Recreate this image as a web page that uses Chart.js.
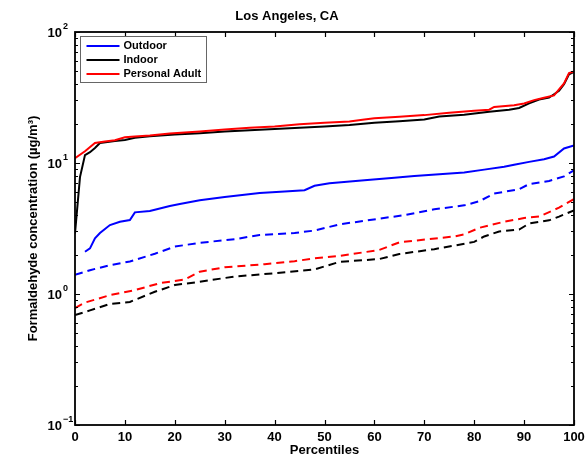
<!DOCTYPE html>
<html>
<head>
<meta charset="utf-8">
<script src="https://cdn.jsdelivr.net/npm/chart.js@4.4.1/dist/chart.umd.min.js"></script>
<style>
  html, body { margin: 0; padding: 0; background: #fff; }
  #wrap { width: 586px; height: 462px; }
</style>
</head>
<body>
<div id="wrap"><canvas id="c" width="586" height="462"></canvas></div>
<script>
// Formaldehyde concentration percentiles (µg/m³), Los Angeles, CA
const outdoorPct = [2, 3, 4, 5, 7, 9, 11, 12, 15, 19, 21, 25, 30, 37, 42, 46, 48, 51, 58, 64, 68, 73, 78, 82, 86, 88, 91, 94, 96, 98, 100];
const outdoorVal = [2.1, 2.23, 2.66, 2.92, 3.36, 3.56, 3.67, 4.2, 4.3, 4.7, 4.86, 5.2, 5.5, 5.9, 6.05, 6.2, 6.7, 7.0, 7.4, 7.7, 7.95, 8.2, 8.45, 8.9, 9.35, 9.7, 10.2, 10.7, 11.2, 12.9, 13.6];

const indoorPct = [0, 1, 2, 3, 4, 5, 8, 10, 12, 15, 20, 25, 30, 35, 40, 45, 50, 55, 60, 65, 70, 73, 78, 83, 87, 89, 91, 93, 95, 96, 97, 98, 99, 100];
const indoorVal = [2.9, 7.8, 11.5, 12.1, 13.0, 14.2, 14.7, 15.0, 15.6, 16.0, 16.5, 16.9, 17.4, 17.8, 18.2, 18.6, 19.0, 19.5, 20.3, 20.8, 21.5, 22.6, 23.4, 24.6, 25.5, 26.3, 28.5, 30.5, 31.6, 33.5, 35.6, 40.0, 47.5, 49.5];

const personalPct = [0, 2, 4, 6, 8, 10, 12, 15, 19, 25, 30, 35, 40, 45, 50, 55, 58, 60, 65, 70, 75, 80, 83, 84, 88, 90, 92, 94, 96, 98, 99, 100];
const personalVal = [10.9, 12.3, 14.2, 14.6, 14.9, 15.7, 15.9, 16.2, 16.8, 17.4, 18.0, 18.6, 19.0, 19.8, 20.3, 20.7, 21.5, 22.0, 22.5, 23.2, 24.2, 25.0, 25.5, 26.8, 27.6, 28.5, 30.2, 31.5, 32.8, 40.5, 48.5, 50.0];

const outdoorLowPct = [0, 3, 7, 11, 16, 20, 25, 32, 37, 44, 48, 53, 61, 66, 72, 78, 81, 84, 89, 91, 95, 98, 100];
const outdoorLowVal = [1.40, 1.52, 1.66, 1.77, 2.03, 2.30, 2.46, 2.62, 2.82, 2.92, 3.05, 3.40, 3.76, 4.0, 4.43, 4.75, 5.1, 5.85, 6.3, 6.9, 7.3, 7.9, 8.8];

const personalLowPct = [0, 2, 7, 12, 17, 22, 25, 30, 38, 44, 48, 53, 61, 65, 76, 78, 81, 86, 90, 93, 97, 100];
const personalLowVal = [0.78, 0.86, 0.98, 1.07, 1.21, 1.29, 1.48, 1.60, 1.69, 1.78, 1.87, 1.95, 2.17, 2.48, 2.75, 2.85, 3.2, 3.56, 3.8, 3.9, 4.56, 5.3];

const indoorLowPct = [0, 3, 7, 11, 16, 20, 25, 32, 40, 48, 53, 61, 65, 72, 76, 80, 82, 85, 89, 91, 95, 97, 100];
const indoorLowVal = [0.69, 0.75, 0.84, 0.87, 1.04, 1.17, 1.24, 1.36, 1.44, 1.54, 1.76, 1.85, 2.02, 2.2, 2.34, 2.5, 2.75, 3.0, 3.1, 3.45, 3.65, 3.9, 4.35];

const xTickValues = [0, 10, 20, 30, 40, 50, 60, 70, 80, 90, 100];
const yDecades = [-1, 0, 1, 2];

const FONT = '"Liberation Sans", Arial, Helvetica, sans-serif';

function pts(px, vals) {
  return px.map((p, i) => ({ x: p, y: vals[i] }));
}

function series(label, px, vals, color, dashed, order, inLegend) {
  return {
    label,
    data: pts(px, vals),
    borderColor: color,
    backgroundColor: color,
    borderWidth: 2,
    borderDash: dashed ? [8, 5] : [],
    pointRadius: 0,
    tension: 0,
    fill: false,
    order,
    inLegend
  };
}

// Axis frame, inward MATLAB-style ticks, superscripted decade labels and the boxed legend
const axesDecor = {
  id: 'axesDecor',
  afterDatasetsDraw(chart) {
    const { ctx, chartArea: a, scales: { x, y } } = chart;
    ctx.save();
    ctx.strokeStyle = '#000';
    ctx.lineWidth = 1.2;
    ctx.beginPath();
    for (const v of xTickValues) {
      const px = Math.round(x.getPixelForValue(v)) + 0.5;
      ctx.moveTo(px, a.bottom); ctx.lineTo(px, a.bottom - 5);
      ctx.moveTo(px, a.top); ctx.lineTo(px, a.top + 5);
    }
    for (const e of yDecades) {
      for (let m = 1; m <= 9; m++) {
        const v = m * Math.pow(10, e);
        if (v > 100.0001) break;
        const py = Math.round(y.getPixelForValue(v)) + 0.5;
        const len = m === 1 ? 5 : 3;
        ctx.moveTo(a.left, py); ctx.lineTo(a.left + len, py);
        ctx.moveTo(a.right, py); ctx.lineTo(a.right - len, py);
      }
    }
    ctx.stroke();

    ctx.lineWidth = 1.8;
    ctx.strokeRect(a.left, a.top, a.right - a.left, a.bottom - a.top);

    // decade labels
    ctx.fillStyle = '#000';
    for (const e of yDecades) {
      const py = y.getPixelForValue(Math.pow(10, e));
      ctx.font = 'bold 13px ' + FONT;
      ctx.textAlign = 'right';
      ctx.textBaseline = 'middle';
      ctx.fillText('10', 62, py + 1);
      ctx.font = 'bold 9px ' + FONT;
      ctx.textAlign = 'left';
      ctx.fillText(String(e).replace('-', '\u2212'), 63, py - 5);
    }

    // legend box
    const items = chart.data.datasets.filter(d => d.inLegend);
    const bx = a.left + 5.5, by = a.top + 4.5, bw = 126, bh = 46;
    ctx.fillStyle = '#fff';
    ctx.fillRect(bx, by, bw, bh);
    ctx.strokeStyle = '#666';
    ctx.lineWidth = 1;
    ctx.strokeRect(bx, by, bw, bh);
    ctx.font = 'bold 11px ' + FONT;
    ctx.textAlign = 'left';
    ctx.textBaseline = 'middle';
    items.forEach((d, i) => {
      const ry = by + 9.5 + i * 14;
      ctx.strokeStyle = d.borderColor;
      ctx.lineWidth = 2;
      ctx.beginPath();
      ctx.moveTo(bx + 6, ry); ctx.lineTo(bx + 39, ry);
      ctx.stroke();
      ctx.fillStyle = '#000';
      ctx.fillText(d.label, bx + 43, ry);
    });
    ctx.restore();
  }
};

new Chart(document.getElementById('c'), {
  type: 'line',
  data: {
    datasets: [
      series('Outdoor', outdoorPct, outdoorVal, '#0000ff', false, 2, true),
      series('Indoor', indoorPct, indoorVal, '#000000', false, 1, true),
      series('Personal Adult', personalPct, personalVal, '#ff0000', false, 0, true),
      series('Outdoor (dashed)', outdoorLowPct, outdoorLowVal, '#0000ff', true, 3, false),
      series('Personal Adult (dashed)', personalLowPct, personalLowVal, '#ff0000', true, 3, false),
      series('Indoor (dashed)', indoorLowPct, indoorLowVal, '#000000', true, 4, false)
    ]
  },
  options: {
    responsive: false,
    animation: false,
    devicePixelRatio: 1,
    layout: { padding: { left: 0, right: 12, top: 0, bottom: 0 } },
    plugins: {
      legend: { display: false },
      tooltip: { enabled: false },
      title: {
        display: true,
        text: 'Los Angeles, CA',
        color: '#000',
        font: { family: FONT, size: 13, weight: 'bold' },
        padding: { top: 9, bottom: 7.4 }
      }
    },
    scales: {
      x: {
        type: 'linear',
        min: 0,
        max: 100,
        afterBuildTicks: s => { s.ticks = xTickValues.map(v => ({ value: v })); },
        afterFit: s => { s.height = 37; s.paddingLeft = 0; s.paddingRight = 0; },
        grid: { display: false, drawTicks: false },
        border: { display: false },
        ticks: {
          color: '#000',
          padding: 5,
          maxRotation: 0,
          font: { family: FONT, size: 13, weight: 'bold' }
        },
        title: {
          display: true,
          text: 'Percentiles',
          color: '#000',
          font: { family: FONT, size: 13, weight: 'bold' },
          padding: { top: 0, bottom: 4 }
        }
      },
      y: {
        type: 'logarithmic',
        min: 0.1,
        max: 100,
        afterBuildTicks: s => { s.ticks = yDecades.map(e => ({ value: Math.pow(10, e) })); },
        afterFit: s => { s.width = 75; },
        grid: { display: false, drawTicks: false },
        border: { display: false },
        ticks: { display: false },
        title: {
          display: true,
          text: 'Formaldehyde concentration (\u00b5g/m\u00b3)',
          color: '#000',
          font: { family: FONT, size: 13, weight: 'bold' },
          padding: { top: 26, bottom: 0 }
        }
      }
    }
  },
  plugins: [axesDecor]
});
</script>
</body>
</html>
